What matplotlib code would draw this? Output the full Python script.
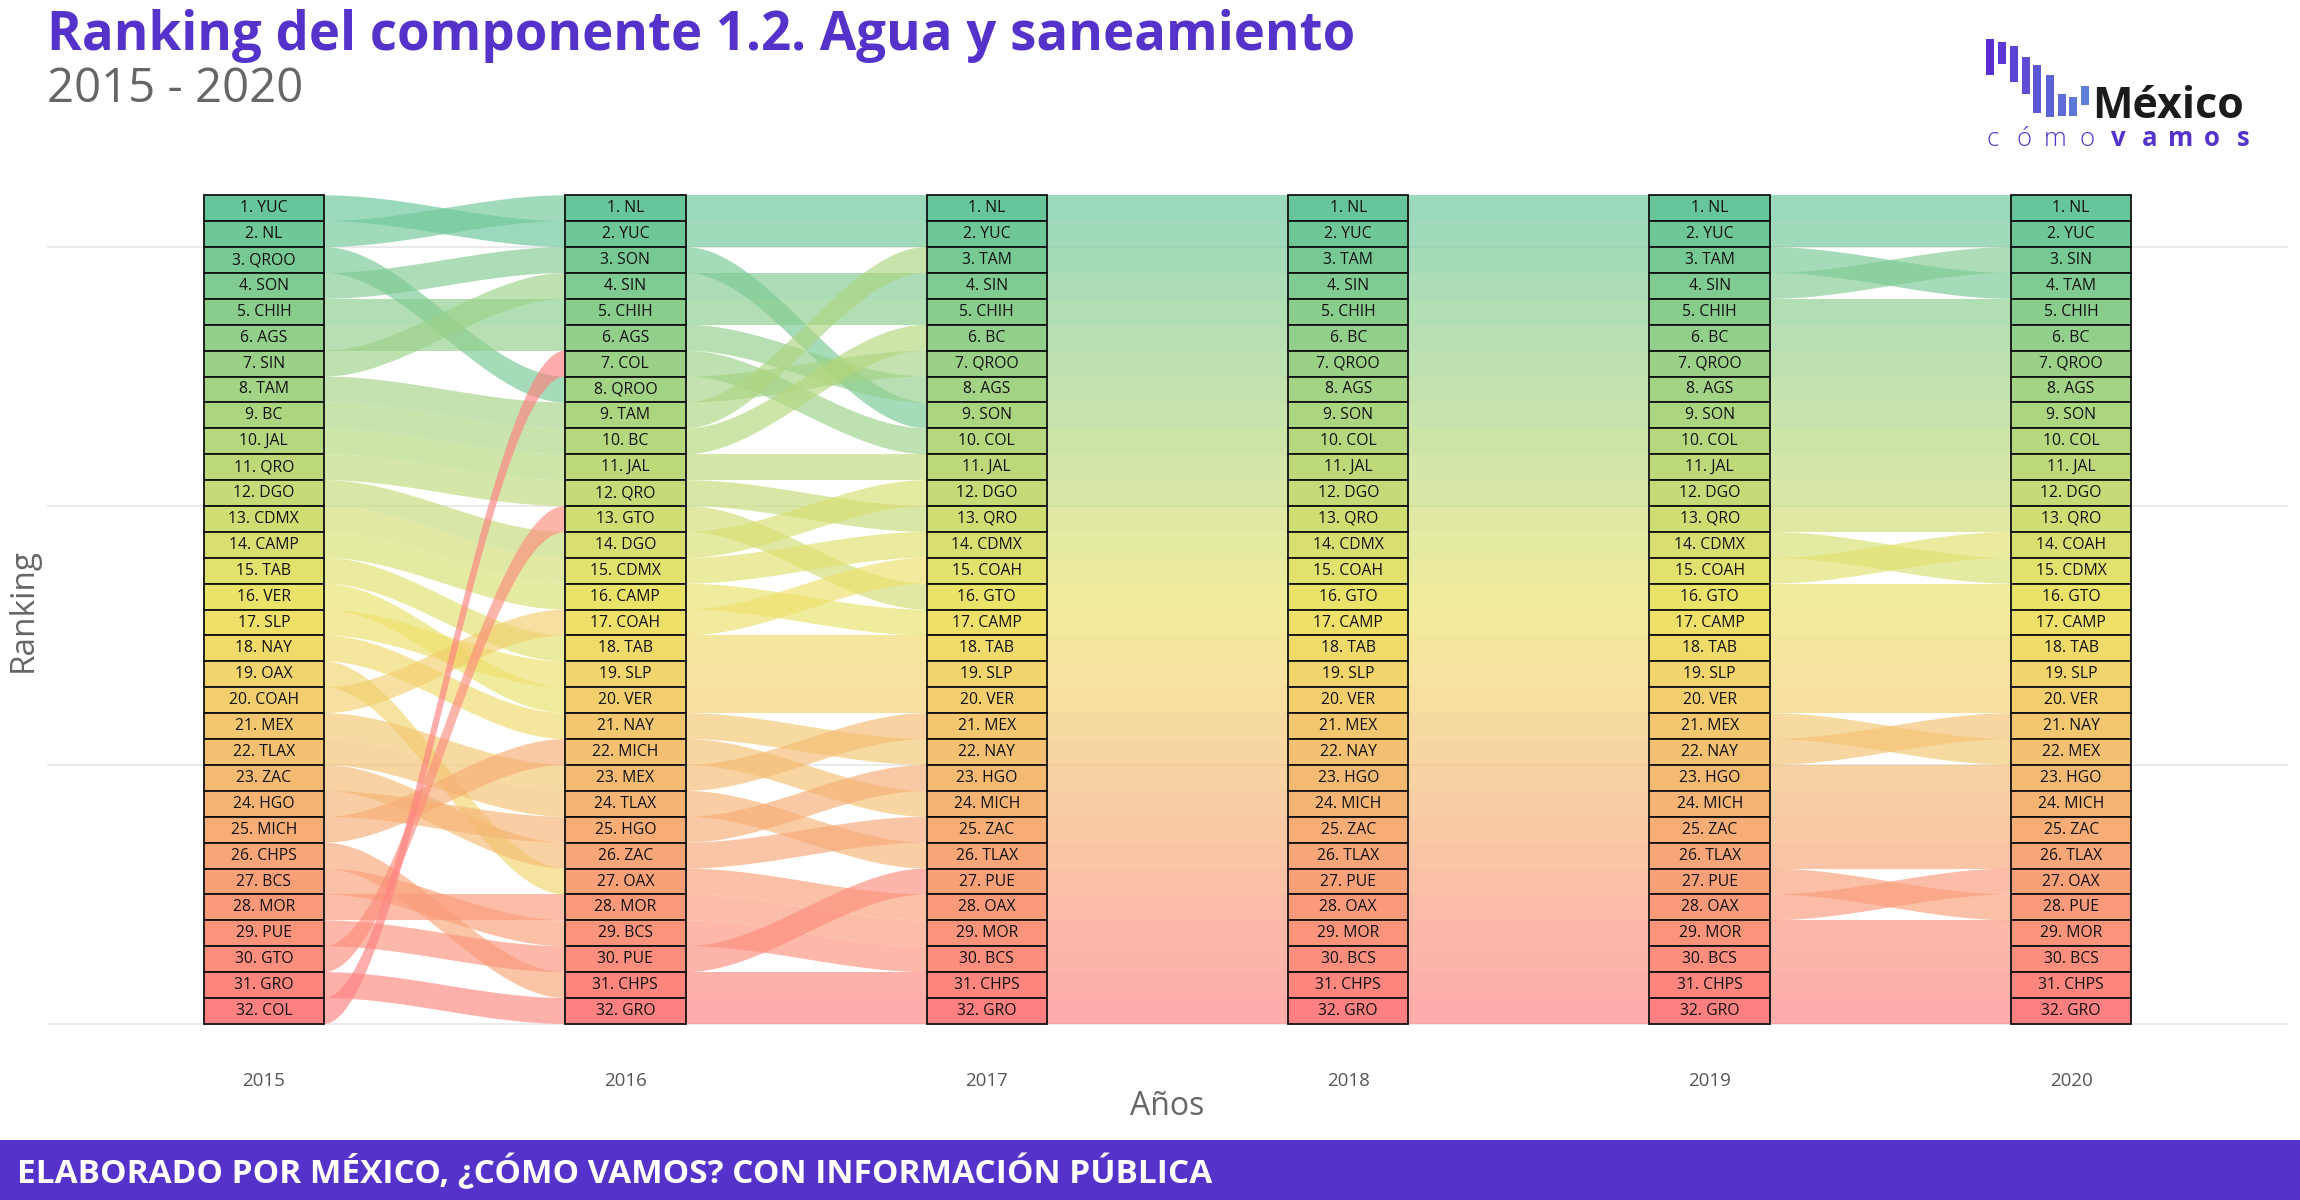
import matplotlib
matplotlib.use("Agg")
import matplotlib.pyplot as plt
import numpy as np
from matplotlib.colors import LinearSegmentedColormap
from matplotlib.patches import Rectangle, Polygon

plt.rcParams['font.family'] = ['Open Sans', 'DejaVu Sans']

# ranking per year, position 1 first
years = [2015, 2016, 2017, 2018, 2019, 2020]
rank_2015 = ["YUC", "NL", "QROO", "SON", "CHIH", "AGS", "SIN", "TAM", "BC", "JAL", "QRO",
             "DGO", "CDMX", "CAMP", "TAB", "VER", "SLP", "NAY", "OAX", "COAH", "MEX", "TLAX",
             "ZAC", "HGO", "MICH", "CHPS", "BCS", "MOR", "PUE", "GTO", "GRO", "COL"]
rank_2016 = ["NL", "YUC", "SON", "SIN", "CHIH", "AGS", "COL", "QROO", "TAM", "BC", "JAL",
             "QRO", "GTO", "DGO", "CDMX", "CAMP", "COAH", "TAB", "SLP", "VER", "NAY", "MICH",
             "MEX", "TLAX", "HGO", "ZAC", "OAX", "MOR", "BCS", "PUE", "CHPS", "GRO"]
rank_2017 = ["NL", "YUC", "TAM", "SIN", "CHIH", "BC", "QROO", "AGS", "SON", "COL", "JAL",
             "DGO", "QRO", "CDMX", "COAH", "GTO", "CAMP", "TAB", "SLP", "VER", "MEX", "NAY",
             "HGO", "MICH", "ZAC", "TLAX", "PUE", "OAX", "MOR", "BCS", "CHPS", "GRO"]
rank_2018 = ["NL", "YUC", "TAM", "SIN", "CHIH", "BC", "QROO", "AGS", "SON", "COL", "JAL",
             "DGO", "QRO", "CDMX", "COAH", "GTO", "CAMP", "TAB", "SLP", "VER", "MEX", "NAY",
             "HGO", "MICH", "ZAC", "TLAX", "PUE", "OAX", "MOR", "BCS", "CHPS", "GRO"]
rank_2019 = ["NL", "YUC", "TAM", "SIN", "CHIH", "BC", "QROO", "AGS", "SON", "COL", "JAL",
             "DGO", "QRO", "CDMX", "COAH", "GTO", "CAMP", "TAB", "SLP", "VER", "MEX", "NAY",
             "HGO", "MICH", "ZAC", "TLAX", "PUE", "OAX", "MOR", "BCS", "CHPS", "GRO"]
rank_2020 = ["NL", "YUC", "SIN", "TAM", "CHIH", "BC", "QROO", "AGS", "SON", "COL", "JAL",
             "DGO", "QRO", "COAH", "CDMX", "GTO", "CAMP", "TAB", "SLP", "VER", "NAY", "MEX",
             "HGO", "MICH", "ZAC", "TLAX", "OAX", "PUE", "MOR", "BCS", "CHPS", "GRO"]
rankings = [rank_2015, rank_2016, rank_2017, rank_2018, rank_2019, rank_2020]

PURPLE = "#5533CB"
n = len(rank_2015)
cmap = LinearSegmentedColormap.from_list("rk", ["#66C59A", "#EEE468", "#FF8080"])
def rank_color(r):
    return cmap((r - 1) / (n - 1))

fig = plt.figure(figsize=(23, 12), dpi=100)

# overlay in pixel coords for banner / logo
over = fig.add_axes([0, 0, 1, 1], zorder=0)
over.set_xlim(0, 2300)
over.set_ylim(1200, 0)
over.axis("off")
over.add_patch(Rectangle((0, 1140), 2300, 60, color=PURPLE, lw=0))

# logo
bars = [(1986, 39, 75), (1998, 42, 64), (2010, 46, 82), (2022, 57, 94), (2033, 65, 113),
        (2046, 75, 117), (2058, 94, 116), (2069, 97, 116), (2081, 86, 105)]
bar_cm = LinearSegmentedColormap.from_list("lg", ["#5A2ED2", "#5E80D8"])
for i, (bx, t, b) in enumerate(bars):
    over.add_patch(Rectangle((bx, t), 8, b - t, color=bar_cm(i / 8), lw=0))
over.text(2092, 118, "México", fontsize=31, weight="bold", color="#1b1b1b", va="baseline")
letters = "cómovamos"
for i, (lx, ch) in enumerate(zip(np.linspace(1993, 2243, 9), letters)):
    over.text(lx, 146, ch, fontsize=18.5, color=PURPLE, ha="center", va="baseline",
              weight="light" if i < 4 else "bold")

# main panel
ax = fig.add_axes([47 / 2300, 0.1122, (2288 - 47) / 2300, 0.7596], zorder=1)
ax.set_facecolor("none")
ax.set_xlim(0.4, 6.6)
ax.set_ylim(-1.6, 33.6)
w = 1 / 3

def ybox(r):
    return n - r  # bottom of the stratum for rank r

t = np.linspace(0, 1, 80)
s = 3 * t ** 2 - 2 * t ** 3
for i in range(len(years) - 1):
    x0, x1 = i + 1 + w / 2, i + 2 - w / 2
    xs = x0 + (x1 - x0) * t
    nxt = rankings[i + 1]
    for r0, st in enumerate(rankings[i], start=1):
        r1 = nxt.index(st) + 1
        b0, b1 = ybox(r0), ybox(r1)
        lo = b0 + (b1 - b0) * s
        pts = np.vstack([np.column_stack([xs, lo]), np.column_stack([xs[::-1], lo[::-1] + 1])])
        ax.add_patch(Polygon(pts, closed=True, facecolor=rank_color(r0), alpha=0.65, lw=0,
                             zorder=2))

for i, yr_rank in enumerate(rankings):
    for r, st in enumerate(yr_rank, start=1):
        ax.add_patch(Rectangle((i + 1 - w / 2, ybox(r)), w, 1, facecolor=rank_color(r),
                               edgecolor="#111111", lw=1.3, zorder=3))
        ax.text(i + 1, ybox(r) + 0.5, f"{r}. {st}", ha="center", va="center",
                fontsize=11.3, color="#111111", zorder=4)

ax.set_yticks([0, 10, 20, 30])
ax.set_yticklabels([])
ax.grid(axis="y", color="#E6E6E6", lw=1.2, zorder=0)
ax.set_axisbelow(True)
ax.set_xticks(range(1, len(years) + 1))
ax.set_xticklabels([str(y) for y in years], fontsize=13.5, color="#555555")
ax.tick_params(length=0, pad=5)
for sp in ax.spines.values():
    sp.set_visible(False)
ax.set_xlabel("Años", fontsize=23, color="#666666", labelpad=0)
ax.set_ylabel("Ranking", fontsize=24, color="#666666", labelpad=0)

fig.text(47 / 2300, 1 - 50 / 1200, "Ranking del componente 1.2. Agua y saneamiento",
         fontsize=38, weight="bold", color=PURPLE, va="baseline")
fig.text(47 / 2300, 1 - 102 / 1200, "2015 - 2020", fontsize=34, color="#666666", va="baseline")
fig.text(17 / 2300, 17 / 1200, "ELABORADO POR MÉXICO, ¿CÓMO VAMOS? CON INFORMACIÓN PÚBLICA",
         fontsize=24, weight="bold", color="white", va="baseline")

fig.savefig("out.png", dpi=100)
